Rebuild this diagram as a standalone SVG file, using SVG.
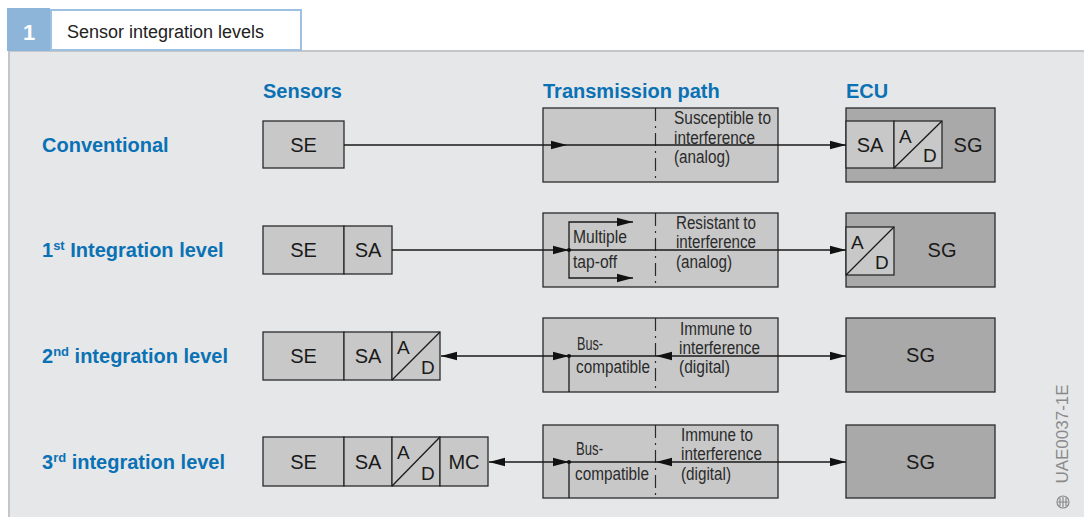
<svg xmlns="http://www.w3.org/2000/svg" xmlns:xlink="http://www.w3.org/1999/xlink" width="1084" height="517" viewBox="0 0 1084 517">
  <defs>
    <style>
      .panel { fill: #e6e7e9; }
      .frame { stroke: #c4c6c9; stroke-width: 2; fill: none; }
      .box { fill: #c8c8c8; stroke: #2a2a2a; stroke-width: 1.3; }
      .ecu { fill: #a9a9a9; stroke: #2a2a2a; stroke-width: 1.3; }
      .line { stroke: #1a1a1a; stroke-width: 1.3; fill: none; }
      .dash { stroke: #2a2a2a; stroke-width: 1.2; stroke-dasharray: 13 5 2 5; fill: none; }
      .head { font-family: "Liberation Sans", Arial, sans-serif; font-weight: bold; font-size: 20px; fill: #0a72b4; }
      .lbl { font-family: "Liberation Sans", Arial, sans-serif; font-size: 20px; fill: #1a1a1a; text-anchor: middle; }
      .ad { font-family: "Liberation Sans", Arial, sans-serif; font-size: 19px; fill: #1a1a1a; }
      .note { font-family: "Liberation Sans", Arial, sans-serif; font-size: 17.5px; fill: #2a2a2a; }
      .arrow { fill: #111; }
    </style>
    <path id="ah" class="arrow" d="M0,0 L-16,-4.2 L-16,4.2 Z"/>
  </defs>

  <!-- background and title tab -->
  <rect width="1084" height="517" fill="#ffffff"/>
  <rect class="panel" x="9" y="50" width="1075" height="467"/>
  <path class="frame" d="M9,517 V51 H1084"/>
  <rect x="7" y="8" width="43" height="43" fill="#8db4d9"/>
  <text x="29" y="40" font-family="Liberation Sans, Arial, sans-serif" font-weight="bold" font-size="22" fill="#ffffff" text-anchor="middle">1</text>
  <rect x="51" y="10" width="250" height="40" fill="#ffffff" stroke="#9fc1e1" stroke-width="2"/>
  <text x="67" y="38" font-family="Liberation Sans, Arial, sans-serif" font-size="18" fill="#222">Sensor integration levels</text>

  <!-- column headings -->
  <g id="headings">
    <text class="head" x="263" y="98">Sensors</text>
    <text class="head" x="543" y="98">Transmission path</text>
    <text class="head" x="846" y="98">ECU</text>
  </g>

  <!-- row headings -->
  <g id="levels">
    <text class="head" x="42" y="152">Conventional</text>
    <text class="head" x="42" y="257">1<tspan font-size="13" dy="-7">st</tspan><tspan dy="7"> Integration level</tspan></text>
    <text class="head" x="42" y="363">2<tspan font-size="13" dy="-7">nd</tspan><tspan dy="7"> integration level</tspan></text>
    <text class="head" x="42" y="469">3<tspan font-size="13" dy="-7">rd</tspan><tspan dy="7"> integration level</tspan></text>
  </g>

  <!-- conventional -->
  <g id="sensor-conv">
    <rect class="box" x="263" y="121" width="81" height="47"/>
    <text class="lbl" x="303.5" y="152">SE</text>
  </g>
  <g id="path-conv">
    <rect class="box" x="543" y="108" width="235" height="74"/>
    <line class="dash" x1="655.5" y1="108" x2="655.5" y2="182"/>
    <text class="note" x="674" y="124" textLength="97" lengthAdjust="spacingAndGlyphs">Susceptible to</text>
    <text class="note" x="674" y="144" textLength="81" lengthAdjust="spacingAndGlyphs">interference</text>
    <text class="note" x="674" y="163" textLength="56" lengthAdjust="spacingAndGlyphs">(analog)</text>
  </g>
  <g id="ecu-conv">
    <rect class="ecu" x="846" y="108" width="149" height="74"/>
    <rect class="box" x="846" y="121" width="48" height="47"/>
    <text class="lbl" x="870" y="152">SA</text>
    <rect class="box" x="894" y="121" width="48" height="47"/>
    <line class="line" x1="894" y1="168" x2="942" y2="121"/>
    <text class="ad" x="899" y="143">A</text>
    <text class="ad" x="923" y="162">D</text>
    <text class="lbl" x="968" y="152">SG</text>
  </g>

  <!-- 1st integration level -->
  <g id="sensor-l1">
    <rect class="box" x="263" y="226" width="81" height="48"/>
    <text class="lbl" x="303.5" y="257">SE</text>
    <rect class="box" x="344" y="226" width="48" height="48"/>
    <text class="lbl" x="368" y="257">SA</text>
  </g>
  <g id="path-l1">
    <rect class="box" x="543" y="213" width="235" height="74"/>
    <line class="dash" x1="655.5" y1="213" x2="655.5" y2="287"/>
    <text class="note" x="676" y="229" textLength="80" lengthAdjust="spacingAndGlyphs">Resistant to</text>
    <text class="note" x="676" y="248" textLength="80" lengthAdjust="spacingAndGlyphs">interference</text>
    <text class="note" x="676" y="268" textLength="56" lengthAdjust="spacingAndGlyphs">(analog)</text>
    <text class="note" x="573" y="243" textLength="54" lengthAdjust="spacingAndGlyphs">Multiple</text>
    <text class="note" x="573" y="268" textLength="44" lengthAdjust="spacingAndGlyphs">tap-off</text>
  </g>
  <g id="ecu-l1">
    <rect class="ecu" x="846" y="213" width="149" height="74"/>
    <rect class="box" x="846" y="227" width="48" height="48"/>
    <line class="line" x1="846" y1="275" x2="894" y2="227"/>
    <text class="ad" x="851" y="249">A</text>
    <text class="ad" x="875" y="269">D</text>
    <text class="lbl" x="942" y="257">SG</text>
  </g>

  <!-- 2nd integration level -->
  <g id="sensor-l2">
    <rect class="box" x="263" y="332" width="81" height="48"/>
    <text class="lbl" x="303.5" y="363">SE</text>
    <rect class="box" x="344" y="332" width="48" height="48"/>
    <text class="lbl" x="368" y="363">SA</text>
    <rect class="box" x="392" y="332" width="48" height="48"/>
    <line class="line" x1="392" y1="380" x2="440" y2="332"/>
    <text class="ad" x="397" y="354">A</text>
    <text class="ad" x="421" y="374">D</text>
  </g>
  <g id="path-l2">
    <rect class="box" x="543" y="318" width="235" height="74"/>
    <line class="dash" x1="655.5" y1="318" x2="655.5" y2="392"/>
    <text class="note" x="680" y="335" textLength="72" lengthAdjust="spacingAndGlyphs">Immune to</text>
    <text class="note" x="679" y="354" textLength="81" lengthAdjust="spacingAndGlyphs">interference</text>
    <text class="note" x="679" y="373" textLength="51" lengthAdjust="spacingAndGlyphs">(digital)</text>
    <text class="note" x="577" y="350" textLength="26" lengthAdjust="spacingAndGlyphs">Bus-</text>
    <text class="note" x="576" y="373" textLength="74" lengthAdjust="spacingAndGlyphs">compatible</text>
  </g>
  <g id="ecu-l2">
    <rect class="ecu" x="846" y="318" width="149" height="74"/>
    <text class="lbl" x="920.5" y="362">SG</text>
  </g>

  <!-- 3rd integration level -->
  <g id="sensor-l3">
    <rect class="box" x="263" y="437" width="81" height="49"/>
    <text class="lbl" x="303.5" y="469">SE</text>
    <rect class="box" x="344" y="437" width="48" height="49"/>
    <text class="lbl" x="368" y="469">SA</text>
    <rect class="box" x="392" y="437" width="48" height="49"/>
    <line class="line" x1="392" y1="486" x2="440" y2="437"/>
    <text class="ad" x="397" y="459">A</text>
    <text class="ad" x="421" y="480">D</text>
    <rect class="box" x="440" y="437" width="48" height="49"/>
    <text class="lbl" x="464" y="469">MC</text>
  </g>
  <g id="path-l3">
    <rect class="box" x="543" y="425" width="235" height="73"/>
    <line class="dash" x1="655.5" y1="425" x2="655.5" y2="498"/>
    <text class="note" x="681" y="441" textLength="72" lengthAdjust="spacingAndGlyphs">Immune to</text>
    <text class="note" x="681" y="460" textLength="81" lengthAdjust="spacingAndGlyphs">interference</text>
    <text class="note" x="681" y="480" textLength="50" lengthAdjust="spacingAndGlyphs">(digital)</text>
    <text class="note" x="576" y="455" textLength="27" lengthAdjust="spacingAndGlyphs">Bus-</text>
    <text class="note" x="575" y="480" textLength="74" lengthAdjust="spacingAndGlyphs">compatible</text>
  </g>
  <g id="ecu-l3">
    <rect class="ecu" x="846" y="425" width="149" height="73"/>
    <text class="lbl" x="920.5" y="469">SG</text>
  </g>

  <!-- signal lines and arrowheads -->
  <g id="connectors">
    <!-- conventional: analog line straight through -->
    <line class="line" x1="344" y1="145" x2="846" y2="145"/>
    <use xlink:href="#ah" transform="translate(567,145)"/>
    <use xlink:href="#ah" transform="translate(846,145)"/>

    <!-- 1st level: analog line with multiple tap-off -->
    <line class="line" x1="392" y1="250" x2="846" y2="250"/>
    <use xlink:href="#ah" transform="translate(569,250)"/>
    <use xlink:href="#ah" transform="translate(846,250)"/>
    <path class="line" d="M633,222 H569 V278 H633"/>
    <use xlink:href="#ah" transform="translate(633,222)"/>
    <use xlink:href="#ah" transform="translate(633,278)"/>
    <circle cx="569" cy="250" r="2" fill="#111"/>

    <!-- 2nd level: bidirectional bus -->
    <line class="line" x1="441" y1="356" x2="846" y2="356"/>
    <use xlink:href="#ah" transform="translate(441,356) rotate(180)"/>
    <use xlink:href="#ah" transform="translate(569,356)"/>
    <use xlink:href="#ah" transform="translate(656,356) rotate(180)"/>
    <use xlink:href="#ah" transform="translate(846,356)"/>
    <line class="line" x1="569" y1="356" x2="569" y2="392"/>
    <circle cx="569" cy="356" r="2" fill="#111"/>

    <!-- 3rd level: bidirectional bus -->
    <line class="line" x1="489" y1="462" x2="846" y2="462"/>
    <use xlink:href="#ah" transform="translate(489,462) rotate(180)"/>
    <use xlink:href="#ah" transform="translate(569,462)"/>
    <use xlink:href="#ah" transform="translate(656,462) rotate(180)"/>
    <use xlink:href="#ah" transform="translate(846,462)"/>
    <line class="line" x1="569" y1="462" x2="569" y2="498"/>
    <circle cx="569" cy="462" r="2" fill="#111"/>
  </g>

  <!-- figure code and maker mark -->
  <text transform="translate(1068,434) rotate(-90)" font-family="Liberation Sans, Arial, sans-serif" font-size="17" fill="#8a8a8a" text-anchor="middle">UAE0037-1E</text>
  <g id="mark" fill="none" stroke="#8a8a8a" stroke-width="1.2">
    <circle cx="1063" cy="502" r="6"/>
    <path d="M1058,502 H1068 M1060,498 V506 M1063,497 V507 M1066,498 V506"/>
  </g>
</svg>
